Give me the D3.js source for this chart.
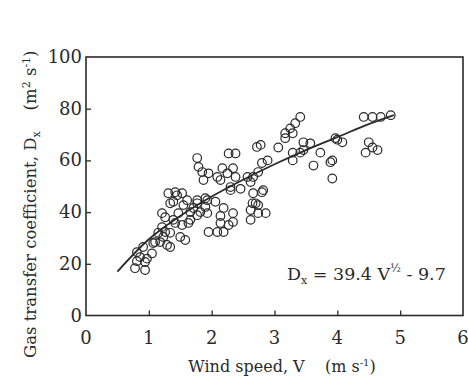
<!DOCTYPE html>
<html>
<head>
<meta charset="utf-8">
<script src="https://d3js.org/d3.v7.min.js"></script>
<style>
  body { margin: 0; background: #fff; }
  svg { display: block; font-family: "DejaVu Serif", "Liberation Serif", serif; }
  text { white-space: pre; }
</style>
</head>
<body>
<svg id="chart" width="468" height="377"></svg>
<script>
// observed points: wind speed V (m/s), gas transfer coefficient Dx (m2/s)
const windSpeed = [
  0.78, 0.94, 0.81, 0.94, 0.81, 0.91, 1.05, 1.07, 0.86, 0.97,
  1.23, 1.21, 1.21, 1.26, 1.34, 1.34, 1.5, 1.53, 1.39, 1.47,
  1.66, 1.66, 1.55, 1.34, 1.1, 1.15, 1.29, 1.42, 1.58, 1.63,
  1.31, 1.42, 1.53, 1.39, 1.61, 1.71, 1.77, 1.82, 1.77, 1.93,
  1.9, 1.95, 2.09, 2.19, 2.14, 2.14, 2.19, 2.34, 2.34, 2.27,
  2.3, 1.77, 1.79, 2.27, 2.38, 1.85, 1.87, 1.95, 2.09, 2.17,
  2.25, 2.34, 2.38, 2.14, 2.3, 2.46, 2.62, 2.74, 2.8, 2.66,
  2.82, 1.77, 1.93, 2.06, 1.9, 2.62, 2.62, 2.74, 2.74, 2.65,
  2.86, 2.8, 2.57, 2.72, 2.78, 3.06, 2.89, 3.41, 3.33, 3.25,
  3.17, 3.29, 3.17, 3.46, 3.57, 3.46, 3.29, 3.41, 3.73, 3.97,
  3.92, 3.62, 3.29, 3.89, 3.92, 4.42, 4.56, 4.69, 4.85, 4.0,
  4.08, 4.5, 4.56, 4.64, 4.45, 1.45, 1.18, 2.66, 2.7, 1.26
];
const transferCoef = [
  18.3, 17.6, 21, 20.7, 24.5, 26.5, 24, 28, 22.6, 22,
  30.4, 34.2, 39.6, 32.3, 26.5, 32, 30.4, 35, 37, 39.6,
  37, 40, 42.7, 43.4, 28.4, 32, 27.3, 35.8, 29.2, 35.8,
  47.3, 47.7, 47.3, 44, 44.6, 41.6, 38.8, 40, 43.4, 39.6,
  45.4, 32.3, 32.3, 32.3, 35.8, 38.5, 41.6, 39.6, 36.2, 35,
  49.7, 60.9, 57.5, 62.7, 62.7, 55.5, 52.4, 55, 53.6, 57,
  55, 57, 53.6, 52.4, 48.5, 49, 51.6, 55.5, 59, 47.3,
  48.5, 44.6, 44.6, 44, 42, 37, 40.8, 42.7, 39.6, 43.4,
  39.6, 47.7, 53.6, 65.2, 66, 65, 60, 76.8, 74.4, 72.4,
  70.5, 70.5, 68.6, 67, 66.6, 64, 63, 63, 63, 68.6,
  60, 58, 60, 59.3, 53, 76.8, 76.8, 76.8, 77.5, 68,
  67, 67, 65, 64, 63, 46.5, 28.4, 53.6, 43.4, 38
];

// fitted curve
const curveV = [0.5, 1, 1.5, 2, 2.5, 3, 3.5, 4, 4.5, 4.9];
const curveD = [17, 29.5, 38.5, 46, 52.5, 58.5, 64, 69, 74, 77.5];

const xTicks = [0, 1, 2, 3, 4, 5, 6];
const yTicks = [0, 20, 40, 60, 80, 100];

const svg = d3.select("#chart");
const margin = { top: 57, right: 5, bottom: 61.5, left: 86 };
const width = 468, height = 377;
const ink = "#2a2a2a";

const x = d3.scaleLinear().domain([0, 6]).range([margin.left, width - margin.right]);
const y = d3.scaleLinear().domain([0, 100]).range([height - margin.bottom, margin.top]);

// frame
svg.append("rect")
  .attr("x", x(0)).attr("y", y(100))
  .attr("width", x(6) - x(0)).attr("height", y(0) - y(100))
  .attr("fill", "none").attr("stroke", ink).attr("stroke-width", 1.6);

// axes with inward ticks
const xAxis = svg.append("g")
  .attr("transform", `translate(0,${y(0)})`)
  .call(d3.axisTop(x).tickValues(xTicks).tickSize(5).tickFormat(""));
xAxis.select(".domain").remove();
xAxis.selectAll("line").attr("stroke", ink).attr("stroke-width", 1.3);
xAxis.selectAll(".tick").filter(d => d === 0 || d === 6).select("line").remove();

svg.append("g").selectAll("text")
  .data(xTicks).join("text")
  .attr("x", d => x(d)).attr("y", y(0) + 28)
  .attr("text-anchor", "middle")
  .attr("font-size", 18).attr("fill", ink)
  .text(d => d);

const yAxis = svg.append("g")
  .attr("transform", `translate(${x(0)},0)`)
  .call(d3.axisRight(y).tickValues(yTicks).tickSize(5).tickFormat(""));
yAxis.select(".domain").remove();
yAxis.selectAll("line").attr("stroke", ink).attr("stroke-width", 1.3);
yAxis.selectAll(".tick").filter(d => d === 0 || d === 100).select("line").remove();

svg.append("g").selectAll("text")
  .data(yTicks).join("text")
  .attr("x", x(0) - 4).attr("y", d => y(d) + 6)
  .attr("text-anchor", "end")
  .attr("font-size", 18).attr("fill", ink)
  .text(d => d);

// axis labels
const xl = svg.append("text")
  .attr("x", 282).attr("y", 372)
  .attr("text-anchor", "middle")
  .attr("font-size", 16).attr("fill", ink);
xl.append("tspan").text("Wind speed, V    (m s");
xl.append("tspan").attr("dy", -6).attr("font-size", 10).text("-1");
xl.append("tspan").attr("dy", 6).text(")");

const yl = svg.append("text")
  .attr("transform", "translate(36,358) rotate(-90)")
  .attr("font-size", 16.5).attr("fill", ink);
yl.append("tspan").text("Gas transfer coefficient, D");
yl.append("tspan").attr("dy", 4).attr("font-size", 11).text("x");
yl.append("tspan").attr("dy", -4).text("    (m");
yl.append("tspan").attr("dy", -6).attr("font-size", 11).text("2");
yl.append("tspan").attr("dy", 6).text(" s");
yl.append("tspan").attr("dy", -6).attr("font-size", 11).text("-1");
yl.append("tspan").attr("dy", 6).text(")");

// fitted curve
const line = d3.line()
  .x((d, i) => x(curveV[i]))
  .y(d => y(d))
  .curve(d3.curveMonotoneX);
svg.append("path")
  .datum(curveD)
  .attr("d", line)
  .attr("fill", "none").attr("stroke", ink).attr("stroke-width", 1.8);

// open circles
svg.append("g").selectAll("circle")
  .data(windSpeed).join("circle")
  .attr("cx", d => x(d))
  .attr("cy", (d, i) => y(transferCoef[i]))
  .attr("r", 4.3)
  .attr("fill", "none").attr("stroke", ink).attr("stroke-width", 1.2);

// equation
const eq = svg.append("text")
  .attr("x", 287).attr("y", 280)
  .attr("font-size", 17.5).attr("fill", ink);
eq.append("tspan").text("D");
eq.append("tspan").attr("dy", 4).attr("font-size", 11).text("x");
eq.append("tspan").attr("dy", -4).text(" = 39.4 V");
eq.append("tspan").attr("dy", -8).attr("font-size", 11).text("½");
eq.append("tspan").attr("dy", 8).text(" - 9.7");
</script>
</body>
</html>
